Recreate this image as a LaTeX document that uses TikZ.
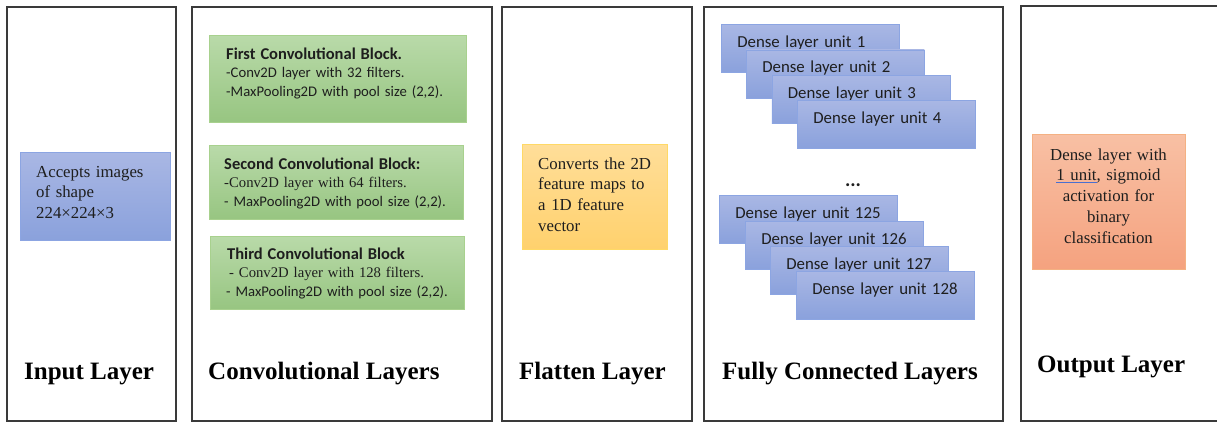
\documentclass[tikz,border=0pt]{standalone}
\usepackage{fontspec}
\setmainfont{Liberation Serif}
\newfontfamily\calibri{Carlito}

\definecolor{ink}{HTML}{1E1E1E}
\definecolor{frame}{HTML}{3A3A3A}
\definecolor{bluetop}{HTML}{A9B7E4}
\definecolor{bluebot}{HTML}{8AA1DC}
\definecolor{blueedge}{HTML}{8CA5E2}
\definecolor{greentop}{HTML}{B9DAA9}
\definecolor{greenbot}{HTML}{97C581}
\definecolor{greenedge}{HTML}{A8D18E}
\definecolor{yellowtop}{HTML}{FFDE99}
\definecolor{yellowbot}{HTML}{FFD16D}
\definecolor{yellowedge}{HTML}{FFD966}
\definecolor{salmontop}{HTML}{F8C0A4}
\definecolor{salmonbot}{HTML}{F5A27F}
\definecolor{salmonedge}{HTML}{F4B183}
\definecolor{markblue}{HTML}{4A6FD0}

\newcommand\spellmark[1]{{\color{markblue}\underline{\color{ink}#1}}}

\tikzset{
  panel/.style={draw=frame, line width=2pt},
  boxbase/.style={anchor=north west, inner sep=0pt, line width=0.8pt},
  bluebox/.style={boxbase, draw=blueedge, top color=bluetop, bottom color=bluebot},
  greenbox/.style={boxbase, draw=greenedge, top color=greentop, bottom color=greenbot},
  yellowbox/.style={boxbase, draw=yellowedge, top color=yellowtop, bottom color=yellowbot},
  salmonbox/.style={boxbase, draw=salmonedge, top color=salmontop, bottom color=salmonbot},
  denseunit/.style={bluebox, text=ink, font=\calibri\fontsize{16.8pt}{20pt}\selectfont,
    text width=146pt, inner xsep=16pt, inner ysep=0pt, align=left,
    text height=23pt, text depth=25pt},
  serifbody/.style={anchor=base west, inner sep=0pt, text=ink, align=left,
    font=\fontsize{16.8pt}{20.6pt}\selectfont},
  convtext/.style={anchor=base west, inner sep=0pt, text=ink, align=left,
    text width=240pt, font=\calibri\fontsize{14.7pt}{18.6pt}\selectfont},
  layertitle/.style={anchor=base west, inner sep=0pt, text=black,
    font=\bfseries\fontsize{25pt}{30pt}\selectfont},
}

\newcommand\ctitle[1]{{\bfseries\fontsize{16.5pt}{18.6pt}\selectfont #1}}
\newcommand\tms{\rmfamily}

\begin{document}
\begin{tikzpicture}[x=1pt, y=-1pt]
\useasboundingbox (0,0) rectangle (1217,423);
\clip (0,0) rectangle (1217,423);

% layer frames
\draw[panel] (7,6.5) rectangle (176,421);
\draw[panel] (192,6.5) rectangle (492,421);
\draw[panel] (502,6.5) rectangle (692,421);
\draw[panel] (704,6.5) rectangle (1003,421);
\draw[panel] (1021,5.5) rectangle (1240,421);

% input layer
\node[bluebox, minimum width=150pt, minimum height=88pt] (inbox) at (20,152) {};
\node[serifbody, text width=130pt] (intext) at (36,177)
  {Accepts images\\of shape\\224×224×3};

% convolutional layers
\node[greenbox, minimum width=257pt, minimum height=87pt] (conv1) at (209,35) {};
\node[greenbox, minimum width=254pt, minimum height=74pt] (conv2) at (209,145) {};
\node[greenbox, minimum width=254pt, minimum height=73pt] (conv3) at (210,236) {};

\node[convtext] (conv1text) at (226,59.3)
  {\ctitle{First Convolutional Block.}\\
   -Conv2D layer with 32 filters.\\
   -MaxPooling2D with pool size (2,2).};
\node[convtext] (conv2text) at (224,169)
  {\ctitle{Second Convolutional Block:}\\
   {\tms -Conv2D layer with 64 filters.}\\
   - MaxPooling2D with pool size (2,2).};
\node[convtext] (conv3text) at (227,259.3)
  {\ctitle{Third Convolutional Block}\\
   \hspace*{2pt}{\tms - Conv2D layer with 128 filters.}\\
   \hspace*{-1pt}- MaxPooling2D with pool size (2,2).};

% flatten layer
\node[yellowbox, minimum width=145pt, minimum height=105pt] (flatbox) at (522,144) {};
\node[serifbody, text width=125pt] (flattext) at (538,169.3)
  {Converts the 2D\\feature maps to\\a 1D feature\\vector};

% fully connected layers
\node[denseunit] (u1) at (721,24) {Dense layer unit 1};
\node[denseunit] (u2) at (746,49.5) {Dense layer unit 2};
\node[denseunit] (u3) at (771.5,75) {Dense layer unit 3};
\node[denseunit] (u4) at (797,100) {Dense layer unit 4};

\node[anchor=base, inner sep=0pt, text=ink, font=\calibri\bfseries\fontsize{20pt}{24pt}\selectfont]
  (gap) at (853,186) {...};

\node[denseunit] (u125) at (719,195) {Dense layer unit 125};
\node[denseunit] (u126) at (745,221) {Dense layer unit 126};
\node[denseunit] (u127) at (770,246) {Dense layer unit 127};
\node[denseunit] (u128) at (796,271) {Dense layer unit 128};

% output layer
\node[salmonbox, minimum width=153pt, minimum height=135pt] (outbox) at (1032,134) {};
\node[anchor=base, inner sep=0pt, text=ink, align=center, text width=150pt,
  font=\fontsize{16.8pt}{20.75pt}\selectfont] (outtext) at (1108.5,160)
  {Dense layer with\\\spellmark{1 unit}, sigmoid\\activation for\\binary\\classification};

% layer titles
\node[layertitle] (t1) at (24,379) {Input Layer};
\node[layertitle] (t2) at (208,379) {Convolutional Layers};
\node[layertitle] (t3) at (519,379) {Flatten Layer};
\node[layertitle] (t4) at (722,379) {Fully Connected Layers};
\node[layertitle] (t5) at (1037,372.7) {Output Layer};
\end{tikzpicture}
\end{document}
